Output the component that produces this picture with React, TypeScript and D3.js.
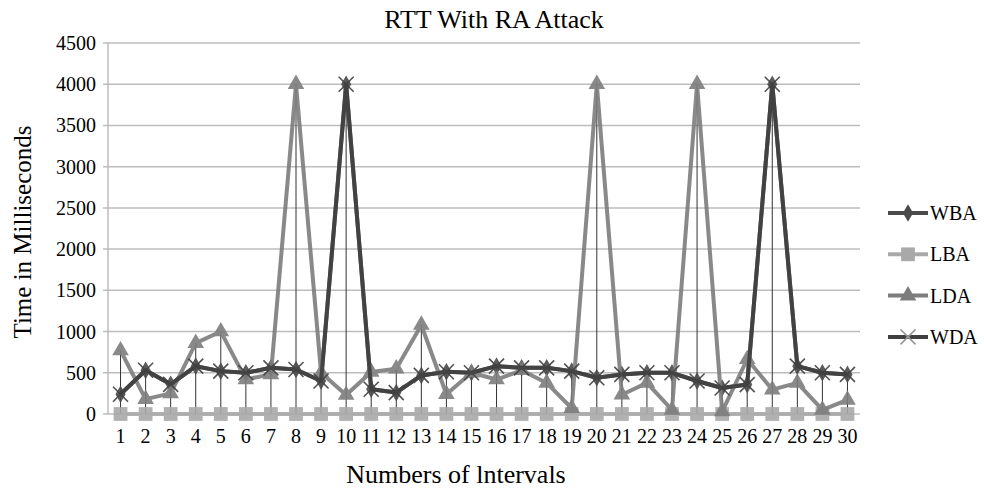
import React, { useEffect, useRef } from "react";
import { line, max, range, scaleBand, scaleLinear, select, symbol, symbolDiamond, symbolSquare, symbolTriangle } from "d3";

// categories: interval numbers
const intervals = range(1, 31).map(String);

const wba = [240, 530, 360, 580, 520, 500, 560, 540, 400, 4000, 300, 260, 468, 512, 500, 580, 560, 560, 520, 440, 480, 500, 500, 400, 315, 357, 4000, 580, 500, 480];
const lba = [0, 0, 0, 0, 0, 0, 0, 0, 0, 0, 0, 0, 0, 0, 0, 0, 0, 0, 0, 0, 0, 0, 0, 0, 0, 0, 0, 0, 0, 0];
const lda = [770, 180, 250, 860, 1000, 420, 480, 4000, 500, 230, 510, 550, 1080, 240, 500, 418, 530, 377, 70, 4000, 234, 377, 50, 4000, 30, 664, 295, 377, 50, 172];
const wda = [240, 530, 360, 580, 520, 500, 560, 540, 400, 4000, 300, 260, 468, 512, 500, 580, 560, 560, 520, 440, 480, 500, 500, 400, 315, 357, 4000, 580, 500, 480];

const yTicks = [0, 500, 1000, 1500, 2000, 2500, 3000, 3500, 4000, 4500];

const seriesList = [
  { name: "WBA", values: wba, color: "#4a4a4a", marker: "diamond" },
  { name: "LBA", values: lba, color: "#a9a9a9", marker: "square" },
  { name: "LDA", values: lda, color: "#7d7d7d", marker: "triangle" },
  { name: "WDA", values: wda, color: "#404040", marker: "x" },
];

const width = 984;
const height = 491;
const font = "'Liberation Serif', 'Times New Roman', serif";

function drawMarker(g, type, color, x, y) {
  if (type === "x") {
    const s = 7.5;
    g.append("path")
      .attr("d", `M${x - s},${y - s}L${x + s},${y + s}M${x - s},${y + s}L${x + s},${y - s}`)
      .attr("stroke", color)
      .attr("stroke-width", 1.6)
      .attr("fill", "none");
    return;
  }
  const sym = type === "square" ? symbolSquare : type === "triangle" ? symbolTriangle : symbolDiamond;
  const size = type === "square" ? 190 : type === "triangle" ? 120 : 90;
  g.append("path")
    .attr("d", symbol().type(sym).size(size)())
    .attr("transform", `translate(${x},${y})`)
    .attr("fill", color);
}

function Chart() {
  const svgRef = useRef(null);

  useEffect(() => {
    const svg = select(svgRef.current);
    svg.selectAll("*").remove();

    const plot = { left: 108, right: 860, top: 43, bottom: 414 };

    const x = scaleBand().domain(intervals).range([plot.left, plot.right]);
    const y = scaleLinear().domain([0, 4500]).range([plot.bottom, plot.top]);
    const cx = (d) => x(d) + x.bandwidth() / 2;

    // gridlines + y ticks
    const yAxis = svg.append("g");
    yAxis.selectAll("line")
      .data(yTicks)
      .join("line")
      .attr("x1", plot.left - 5)
      .attr("x2", plot.right)
      .attr("y1", (d) => y(d))
      .attr("y2", (d) => y(d))
      .attr("stroke", "#bdbdbd")
      .attr("stroke-width", 1.5);
    yAxis.selectAll("text")
      .data(yTicks)
      .join("text")
      .attr("x", plot.left - 12)
      .attr("y", (d) => y(d))
      .attr("dy", "0.35em")
      .attr("text-anchor", "end")
      .attr("font-family", font)
      .attr("font-size", 20)
      .text((d) => d);
    svg.append("line")
      .attr("x1", plot.left).attr("x2", plot.left)
      .attr("y1", plot.top).attr("y2", plot.bottom)
      .attr("stroke", "#bdbdbd").attr("stroke-width", 1.5);

    // x labels
    svg.append("g")
      .selectAll("text")
      .data(intervals)
      .join("text")
      .attr("x", (d) => cx(d))
      .attr("y", 443)
      .attr("text-anchor", "middle")
      .attr("font-family", font)
      .attr("font-size", 20)
      .text((d) => d);

    // drop lines from highest point to the axis
    svg.append("g")
      .selectAll("line")
      .data(intervals)
      .join("line")
      .attr("x1", (d) => cx(d))
      .attr("x2", (d) => cx(d))
      .attr("y1", y(0))
      .attr("y2", (d, i) => y(max(seriesList, (s) => s.values[i])))
      .attr("stroke", "#333")
      .attr("stroke-width", 1);

    const lineGen = line()
      .x((d, i) => cx(intervals[i]))
      .y((d) => y(d));

    seriesList.forEach((s) => {
      const g = svg.append("g").attr("opacity", 0.9);
      g.append("path")
        .datum(s.values)
        .attr("d", lineGen)
        .attr("fill", "none")
        .attr("stroke", s.color)
        .attr("stroke-width", 4)
        .attr("stroke-linejoin", "round");
      s.values.forEach((v, i) => drawMarker(g, s.marker, s.color, cx(intervals[i]), y(v)));
    });

    // legend
    const legend = svg.append("g");
    seriesList.forEach((s, i) => {
      const ly = 213 + 41.3 * i;
      const row = legend.append("g");
      row.append("line")
        .attr("x1", 888).attr("x2", 928)
        .attr("y1", ly).attr("y2", ly)
        .attr("stroke", s.color).attr("stroke-width", 4);
      drawMarker(row, s.marker, s.marker === "x" ? "#9a9a9a" : s.color, 908, ly);
      row.append("text")
        .attr("x", 930)
        .attr("y", ly)
        .attr("dy", "0.35em")
        .attr("font-family", font)
        .attr("font-size", 20)
        .text(s.name);
    });

    // titles
    svg.append("text")
      .attr("x", 494).attr("y", 28)
      .attr("text-anchor", "middle")
      .attr("font-family", font).attr("font-size", 26)
      .text("RTT With RA Attack");
    svg.append("text")
      .attr("x", 456).attr("y", 483)
      .attr("text-anchor", "middle")
      .attr("font-family", font).attr("font-size", 26)
      .text("Numbers of lntervals");
    svg.append("text")
      .attr("transform", "translate(31,232) rotate(-90)")
      .attr("text-anchor", "middle")
      .attr("font-family", font).attr("font-size", 25)
      .text("Time in Milliseconds");
  }, []);

  return (
    <svg ref={svgRef} width={width} height={height} style={{ position: "absolute", left: 0, top: 0, background: "#fff" }}></svg>
  );
}

export default function App() {
  return <Chart />;
}
